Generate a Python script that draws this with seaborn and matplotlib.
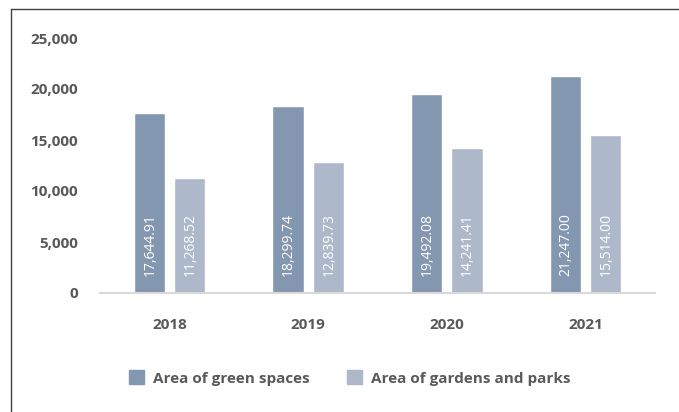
"""Green space area by year, grouped bar chart."""

import matplotlib.pyplot as plt
import pandas as pd
import seaborn as sns
from matplotlib.lines import Line2D

years = ["2018", "2019", "2020", "2021"]
green_spaces = [17644.91, 18299.74, 19492.08, 21247.00]
gardens_parks = [11268.52, 12839.73, 14241.41, 15514.00]
series_names = ["Area of green spaces", "Area of gardens and parks"]
colors = ["#8497B0", "#ADB9CA"]
yticks = [0, 5000, 10000, 15000, 20000, 25000]

sns.set_theme(style="white")
plt.rcParams["font.family"] = ["Open Sans", "DejaVu Sans"]

TEXT = "#595959"

df = pd.DataFrame({
    "year": years * 2,
    "value": green_spaces + gardens_parks,
    "series": [series_names[0]] * 4 + [series_names[1]] * 4,
})

fig = plt.figure(figsize=(6.79, 4.12), dpi=100)
ax = fig.add_axes([100 / 679, 1 - 293 / 412, 555 / 679, 255 / 412])

sns.barplot(
    data=df, x="year", y="value", hue="series", order=years,
    hue_order=series_names, palette=colors, width=0.58, gap=0.22,
    saturation=1, ax=ax, legend=False,
)

for cont, vals in zip(ax.containers, [green_spaces, gardens_parks]):
    for bar, v in zip(cont, vals):
        ax.annotate(
            f"{v:,.2f}", (bar.get_x() + bar.get_width() / 2, 0),
            xytext=(0.5, 12), textcoords="offset points",
            rotation=90, ha="center", va="bottom",
            color="white", fontsize=10,
        )

ax.set_xlim(-0.5, 3.5)
ax.set_ylim(0, 25000)
ax.set_yticks(yticks)
ax.set_yticklabels([f"{t:,}" for t in yticks])
ax.set_xlabel("")
ax.set_ylabel("")
for s in ["top", "right", "left"]:
    ax.spines[s].set_visible(False)
ax.spines["bottom"].set_color("#D9D9D9")
ax.spines["bottom"].set_linewidth(1.5)
ax.tick_params(axis="y", length=0, pad=16, labelsize=11, labelcolor=TEXT)
ax.tick_params(axis="x", length=0, pad=18, labelsize=11, labelcolor=TEXT)
for lbl in ax.get_xticklabels() + ax.get_yticklabels():
    lbl.set_fontweight("bold")

handles = [plt.Rectangle((0, 0), 1, 1, color=c) for c in colors]
fig.legend(
    handles, series_names, loc="center", bbox_to_anchor=(0.515, 0.0825),
    ncol=2, frameon=False, handlelength=1.0, handleheight=1.0,
    columnspacing=2.4, handletextpad=0.6,
    prop={"weight": "bold", "size": 11}, labelcolor=TEXT,
)

# frame lines at the top and left edge of the picture
fig.add_artist(Line2D([11 / 679, 1], [1 - 9 / 412] * 2, color="#404040", lw=1))
fig.add_artist(Line2D([11 / 679] * 2, [0, 1 - 9 / 412], color="#404040", lw=1))

fig.savefig("out.png", dpi=100)
